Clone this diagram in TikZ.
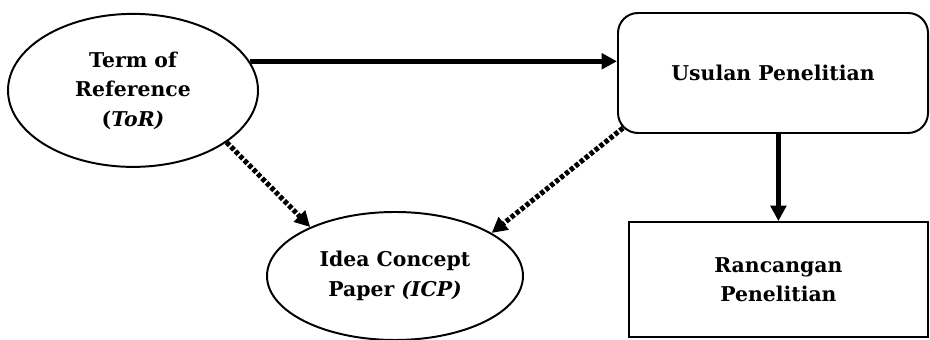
\documentclass[tikz,border=0pt]{standalone}
\usepackage{fontspec}
\setmainfont{DejaVu Serif}
\usepackage{tikz}
\usetikzlibrary{shapes.geometric,arrows.meta,calc}

\tikzset{
	oval/.style={draw,ellipse,line width=1.4pt,inner sep=0pt,align=center},
	kotak/.style={draw,rectangle,line width=1.4pt,inner sep=0pt,align=center},
	panah/.style={line width=3.2pt,-{Triangle[length=11pt,width=11pt]}},
	titik/.style={line width=3.6pt,dash pattern=on 3pt off 1.5pt,-{Triangle[length=11pt,width=11pt]}}
}

\begin{document}
\begin{tikzpicture}[font=\bfseries\fontsize{14.5}{21}\selectfont]
		\useasboundingbox (0,0) rectangle (23.25,8.5);

		\node[oval,minimum width=6.25cm,minimum height=3.825cm] (tor) at (3.325,6.24) {Term of\\Reference\\(\textit{ToR)}};
		\node[oval,minimum width=6.4cm,minimum height=3.2cm] (icp) at (9.875,1.6) {Idea Concept\\Paper \textit{(ICP)}};
		\node[kotak,rounded corners=0.5cm,minimum width=7.75cm,minimum height=3cm] (usulan) at (19.325,6.675) {Usulan Penelitian};
		\node[kotak,minimum width=7.475cm,minimum height=2.875cm] (rancangan) at (19.46,1.51) {Rancangan\\Penelitian};

		\draw[panah] (tor.14) -- (tor.14 -| usulan.west);
		\draw[panah] (rancangan.north |- usulan.south) -- (rancangan.north);
		\draw[titik] (tor.-29) -- (icp.150);
		\draw[titik] ($(usulan.south west)+(.15,.15)$) -- (icp.24);
	\end{tikzpicture}
\end{document}
